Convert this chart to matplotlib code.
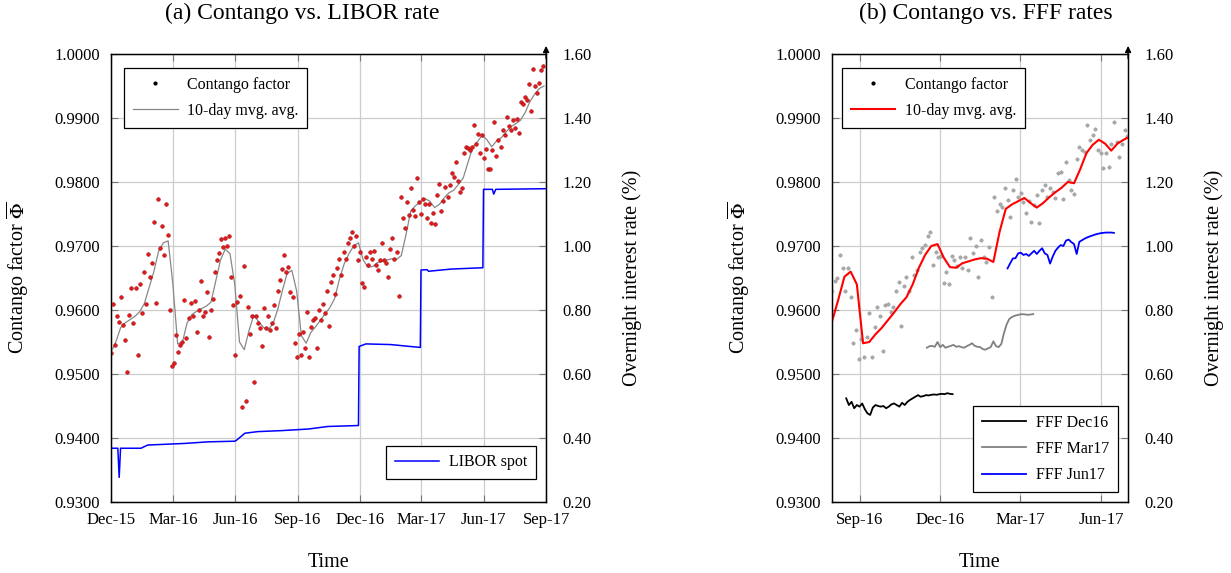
import pandas as pd
import matplotlib
matplotlib.use('Agg')
import matplotlib.pyplot as plt
from matplotlib.lines import Line2D
from matplotlib.ticker import FormatStrFormatter

plt.rcParams['font.family'] = ['Liberation Serif', 'DejaVu Serif']
plt.rcParams['mathtext.fontset'] = 'stix'

# ---------------- panel (a): contango vs LIBOR ----------------
# contango factor, one reading every 3 days from 1 Dec 2015
phi_a = [
    0.9533, 0.9609, 0.9546, 0.9590, 0.9581, 0.9620, 0.9577, 0.9553, 0.9503, 0.9592,
    0.9634, 0.9580, 0.9634, 0.9530, 0.9640, 0.9595, 0.9659, 0.9609, 0.9687, 0.9652,
    0.9673, 0.9737, 0.9611, 0.9773, 0.9697, 0.9731, 0.9686, 0.9766, 0.9717, 0.9600,
    0.9513, 0.9517, 0.9561, 0.9534, 0.9545, 0.9550, 0.9616, 0.9556, 0.9587, 0.9611,
    0.9590, 0.9614, 0.9566, 0.9600, 0.9645, 0.9590, 0.9597, 0.9628, 0.9558, 0.9600,
    0.9617, 0.9659, 0.9678, 0.9689, 0.9711, 0.9698, 0.9712, 0.9700, 0.9716, 0.9652,
    0.9608, 0.9530, 0.9612, 0.9622, 0.9449, 0.9669, 0.9458, 0.9605, 0.9562, 0.9590,
    0.9487, 0.9590, 0.9580, 0.9572, 0.9544, 0.9603, 0.9572, 0.9590, 0.9568, 0.9580,
    0.9608, 0.9572, 0.9630, 0.9647, 0.9664, 0.9686, 0.9660, 0.9667, 0.9628, 0.9620,
    0.9548, 0.9526, 0.9563, 0.9529, 0.9565, 0.9540, 0.9597, 0.9526, 0.9573, 0.9585,
    0.9588, 0.9540, 0.9600, 0.9584, 0.9610, 0.9595, 0.9630, 0.9575, 0.9644, 0.9655,
    0.9625, 0.9666, 0.9680, 0.9655, 0.9690, 0.9680, 0.9705, 0.9713, 0.9722, 0.9700,
    0.9716, 0.9678, 0.9690, 0.9642, 0.9636, 0.9683, 0.9670, 0.9690, 0.9680, 0.9692,
    0.9670, 0.9663, 0.9678, 0.9705, 0.9678, 0.9673, 0.9652, 0.9696, 0.9712, 0.9680,
    0.9690, 0.9622, 0.9777, 0.9744, 0.9728, 0.9768, 0.9748, 0.9790, 0.9757, 0.9747,
    0.9806, 0.9768, 0.9750, 0.9773, 0.9765, 0.9743, 0.9766, 0.9736, 0.9752, 0.9735,
    0.9780, 0.9797, 0.9755, 0.9770, 0.9792, 0.9776, 0.9796, 0.9814, 0.9808, 0.9832,
    0.9802, 0.9785, 0.9790, 0.9845, 0.9855, 0.9853, 0.9850, 0.9855, 0.9889, 0.9860,
    0.9875, 0.9845, 0.9873, 0.9837, 0.9851, 0.9820, 0.9821, 0.9850, 0.9894, 0.9840,
    0.9866, 0.9855, 0.9881, 0.9874, 0.9902, 0.9888, 0.9881, 0.9897, 0.9884, 0.9899,
    0.9877, 0.9925, 0.9922, 0.9933, 0.9928, 0.9953, 0.9911, 0.9976, 0.9950, 0.9939,
    0.9954, 0.9975, 0.9981,
]
# 10-day moving average, weekly from 1 Dec 2015
ma_a = [
    0.9534, 0.9550, 0.9572, 0.9580, 0.9585, 0.9590, 0.9597, 0.9610, 0.9635, 0.9660,
    0.9692, 0.9705, 0.9708, 0.9640, 0.9547, 0.9550, 0.9580, 0.9593, 0.9598, 0.9602,
    0.9606, 0.9612, 0.9645, 0.9678, 0.9695, 0.9688, 0.9640, 0.9550, 0.9538, 0.9568,
    0.9592, 0.9582, 0.9573, 0.9569, 0.9578, 0.9600, 0.9630, 0.9657, 0.9662, 0.9630,
    0.9560, 0.9548, 0.9565, 0.9574, 0.9584, 0.9594, 0.9604, 0.9618, 0.9648, 0.9672,
    0.9688, 0.9700, 0.9705, 0.9678, 0.9667, 0.9668, 0.9674, 0.9676, 0.9678, 0.9680,
    0.9679, 0.9685, 0.9718, 0.9755, 0.9763, 0.9769, 0.9774, 0.9770, 0.9760, 0.9765,
    0.9775, 0.9783, 0.9787, 0.9796, 0.9806, 0.9830, 0.9854, 0.9863, 0.9873, 0.9866,
    0.9855, 0.9864, 0.9869, 0.9878, 0.9886, 0.9891, 0.9896, 0.9908, 0.9925, 0.9937,
    0.9946, 0.9950,
]
# LIBOR spot rate (%)
libor_dates = ['2015-12-01', '2015-12-11', '2015-12-13', '2015-12-15', '2016-01-14',
               '2016-01-24', '2016-03-18', '2016-04-22', '2016-05-31', '2016-06-02',
               '2016-06-15', '2016-07-04', '2016-08-07', '2016-09-16', '2016-10-15',
               '2016-11-29', '2016-11-30', '2016-12-10', '2017-01-15', '2017-02-28',
               '2017-03-01', '2017-03-10', '2017-03-12', '2017-04-15', '2017-05-31',
               '2017-06-01', '2017-06-14', '2017-06-16', '2017-06-19', '2017-08-31']
libor = [0.368, 0.368, 0.277, 0.368, 0.368,
         0.378, 0.383, 0.388, 0.390, 0.392,
         0.415, 0.420, 0.423, 0.428, 0.436,
         0.439, 0.686, 0.694, 0.692, 0.683,
         0.925, 0.926, 0.921, 0.928, 0.932,
         1.177, 1.177, 1.162, 1.177, 1.179]
ticks_a = ['2015-12-01', '2016-03-01', '2016-06-01', '2016-09-01', '2016-12-01',
           '2017-03-01', '2017-06-01', '2017-09-01']
ticklabels_a = ['Dec-15', 'Mar-16', 'Jun-16', 'Sep-16', 'Dec-16', 'Mar-17', 'Jun-17', 'Sep-17']

# ---------------- panel (b): contango vs FFF ----------------
# contango factor, every 3 days from 1 Aug 2016
phi_b = [
    0.9629, 0.9646, 0.9650, 0.9686, 0.9665, 0.9629, 0.9666, 0.9620, 0.9548, 0.9569,
    0.9524, 0.9555, 0.9527, 0.9558, 0.9596, 0.9526, 0.9574, 0.9605, 0.9590, 0.9536,
    0.9608, 0.9610, 0.9597, 0.9605, 0.9629, 0.9644, 0.9575, 0.9637, 0.9652, 0.9630,
    0.9683, 0.9655, 0.9663, 0.9691, 0.9697, 0.9702, 0.9715, 0.9722, 0.9670, 0.9691,
    0.9683, 0.9685, 0.9642, 0.9660, 0.9640, 0.9685, 0.9678, 0.9669, 0.9683, 0.9665,
    0.9683, 0.9663, 0.9713, 0.9689, 0.9700, 0.9652, 0.9710, 0.9683, 0.9675, 0.9699,
    0.9620, 0.9776, 0.9754, 0.9766, 0.9761, 0.9790, 0.9772, 0.9746, 0.9788, 0.9805,
    0.9777, 0.9783, 0.9769, 0.9752, 0.9770, 0.9738, 0.9764, 0.9780, 0.9736, 0.9788,
    0.9796, 0.9777, 0.9790, 0.9785, 0.9775, 0.9814, 0.9816, 0.9774, 0.9831, 0.9803,
    0.9788, 0.9782, 0.9836, 0.9855, 0.9850, 0.9847, 0.9889, 0.9866, 0.9873, 0.9883,
    0.9850, 0.9845, 0.9822, 0.9845, 0.9823, 0.9860, 0.9893, 0.9863, 0.9839, 0.9860,
    0.9881, 0.9872,
]
# 10-day moving average, weekly from 1 Aug 2016
ma_b = [
    0.9582, 0.9616, 0.9652, 0.9660, 0.9640, 0.9548, 0.9550, 0.9562, 0.9572, 0.9584,
    0.9596, 0.9609, 0.9620, 0.9640, 0.9666, 0.9686, 0.9700, 0.9703, 0.9682, 0.9667,
    0.9666, 0.9673, 0.9676, 0.9679, 0.9681, 0.9680, 0.9675, 0.9722, 0.9758, 0.9765,
    0.9770, 0.9775, 0.9767, 0.9760, 0.9767, 0.9776, 0.9784, 0.9791, 0.9800, 0.9798,
    0.9820, 0.9845, 0.9858, 0.9866, 0.9860, 0.9849, 0.9860, 0.9866, 0.9871,
]
# fed funds futures implied rates (%), every 3 days
fff_dec16 = [
    0.524, 0.503, 0.513, 0.493, 0.503, 0.498, 0.508, 0.490, 0.477, 0.472,
    0.495, 0.503, 0.500, 0.498, 0.500, 0.493, 0.498, 0.505, 0.508, 0.503,
    0.498, 0.510, 0.503, 0.513, 0.519, 0.524, 0.529, 0.534, 0.529, 0.531,
    0.534, 0.533, 0.535, 0.536, 0.535, 0.537, 0.538, 0.537, 0.540, 0.538,
    0.537,
]
fff_mar17 = [
    0.682, 0.687, 0.6875, 0.685, 0.700, 0.684, 0.691, 0.682, 0.685, 0.688,
    0.691, 0.685, 0.687, 0.684, 0.682, 0.687, 0.691, 0.696, 0.688, 0.685,
    0.684, 0.678, 0.676, 0.680, 0.684, 0.702, 0.687, 0.684, 0.694, 0.728,
    0.755, 0.772, 0.778, 0.782, 0.784, 0.786, 0.787, 0.786, 0.785, 0.786,
    0.787,
]
fff_jun17 = [
    0.930, 0.946, 0.961, 0.962, 0.977, 0.979, 0.972, 0.975, 0.969, 0.977,
    0.985, 0.975, 0.985, 0.993, 0.977, 0.972, 0.945, 0.967, 0.985, 0.995,
    1.003, 1.000, 1.017, 1.020, 1.012, 1.006, 0.975, 1.013, 1.018, 1.023,
    1.027, 1.030, 1.033, 1.036, 1.038, 1.040, 1.041, 1.042, 1.042, 1.042,
    1.041,
]
ticks_b = ['2016-09-01', '2016-12-01', '2017-03-01', '2017-06-01']
ticklabels_b = ['Sep-16', 'Dec-16', 'Mar-17', 'Jun-17']

yticks_left = [0.93, 0.94, 0.95, 0.96, 0.97, 0.98, 0.99, 1.00]
yticks_right = [0.2, 0.4, 0.6, 0.8, 1.0, 1.2, 1.4, 1.6]

t_phi_a = pd.date_range('2015-12-01', periods=len(phi_a), freq='3D')
t_ma_a = pd.date_range('2015-12-01', periods=len(ma_a), freq='7D')
t_libor = pd.to_datetime(libor_dates)
t_phi_b = pd.date_range('2016-08-01', periods=len(phi_b), freq='3D')
t_ma_b = pd.date_range('2016-08-01', periods=len(ma_b), freq='7D')
t_dec16 = pd.date_range('2016-08-17', periods=len(fff_dec16), freq='3D')
t_mar17 = pd.date_range('2016-11-16', periods=len(fff_mar17), freq='3D')
t_jun17 = pd.date_range('2017-02-15', periods=len(fff_jun17), freq='3D')

FS = 12      # tick labels
LFS = 11.5   # legends
AFS = 14.5   # axis labels
legkw = dict(fontsize=LFS, fancybox=False, edgecolor='black', framealpha=1,
             handlelength=2.8, handletextpad=0.6, borderpad=0.55, labelspacing=0.65,
             borderaxespad=0)

fig = plt.figure(figsize=(12.31, 5.73), dpi=100)
axa = fig.add_axes([0.0902, 0.1239, 0.3534, 0.7819])
axb = fig.add_axes([0.6759, 0.1239, 0.2405, 0.7819])


def style(ax, ticks, labels, xlim, title, title_x):
    ax.set_xlim(pd.Timestamp(xlim[0]), pd.Timestamp(xlim[1]))
    ax.set_ylim(0.93, 1.0)
    ax.set_xticks(pd.to_datetime(ticks))
    ax.set_xticklabels(labels)
    ax.set_yticks(yticks_left)
    ax.yaxis.set_major_formatter(FormatStrFormatter('%.4f'))
    ax.grid(True, color='#cccccc', lw=0.9)
    ax.set_axisbelow(True)
    ax.tick_params(direction='in', length=5, width=0.8, color='#777777', labelsize=FS,
                   top=True)
    ax.tick_params(axis='y', pad=8)
    ax.tick_params(axis='x', pad=7)
    ax.set_xlabel('Time', fontsize=AFS, labelpad=18)
    ax.set_ylabel(r'Contango factor $\overline{\Phi}$', fontsize=AFS, labelpad=17)
    ax.set_title(title, fontsize=17, pad=25, x=title_x)
    for s in ax.spines.values():
        s.set_linewidth(1.0)


def style_right(ax2):
    ax2.set_ylim(0.2, 1.6)
    ax2.set_yticks(yticks_right)
    ax2.yaxis.set_major_formatter(FormatStrFormatter('%.2f'))
    ax2.tick_params(direction='in', length=5, width=0.8, color='#777777', labelsize=FS, pad=12)
    ax2.set_ylabel('Overnight interest rate (%)', fontsize=AFS, labelpad=22)
    ax2.annotate('', xy=(1, 1.018), xytext=(1, 0.99), xycoords='axes fraction',
                 arrowprops=dict(arrowstyle='-|>', lw=1.0, color='black',
                                 mutation_scale=9, shrinkA=0, shrinkB=0))


# panel (a)
style(axa, ticks_a, ticklabels_a, ('2015-12-01', '2017-09-01'),
      '(a) Contango vs. LIBOR rate', 0.44)
axa.plot(t_ma_a, ma_a, color='#888888', lw=0.9, zorder=3)
axa.scatter(t_phi_a, phi_a, s=7, c='#e41a1c', edgecolors='#a01010', linewidths=0.4, zorder=4)
axa2 = axa.twinx()
style_right(axa2)
axa2.plot(t_libor, libor, color='#0000ff', lw=1.1)

h1 = [Line2D([], [], ls='none', marker='o', ms=2, color='black'),
      Line2D([], [], color='#888888', lw=0.9)]
leg = axa.legend(h1, ['Contango factor', '10-day mvg. avg.'], loc='upper left',
                 bbox_to_anchor=(0.030, 0.969), **legkw)
leg.get_frame().set_linewidth(0.9)
leg2 = axa2.legend([Line2D([], [], color='#0000ff', lw=1.1)], ['LIBOR spot'],
                   loc='lower right', bbox_to_anchor=(0.977, 0.051), **legkw)
leg2.get_frame().set_linewidth(0.9)

# panel (b)
style(axb, ticks_b, ticklabels_b, ('2016-08-01', '2017-07-01'),
      '(b) Contango vs. FFF rates', 0.52)
axb.scatter(t_phi_b, phi_b, s=6, c='#aaaaaa', edgecolors='#909090', linewidths=0.3, zorder=3)
axb.plot(t_ma_b, ma_b, color='#ff0000', lw=1.5, zorder=4)
axb2 = axb.twinx()
style_right(axb2)
axb2.plot(t_dec16, fff_dec16, color='black', lw=1.3)
axb2.plot(t_mar17, fff_mar17, color='#808080', lw=1.3)
axb2.plot(t_jun17, fff_jun17, color='#0000ff', lw=1.3)

h2 = [Line2D([], [], ls='none', marker='o', ms=2, color='black'),
      Line2D([], [], color='#ff0000', lw=1.5)]
leg3 = axb.legend(h2, ['Contango factor', '10-day mvg. avg.'], loc='upper left',
                  bbox_to_anchor=(0.033, 0.969), **legkw)
leg3.get_frame().set_linewidth(0.9)
h3 = [Line2D([], [], color='black', lw=1.3), Line2D([], [], color='#808080', lw=1.3),
      Line2D([], [], color='#0000ff', lw=1.3)]
leg4 = axb2.legend(h3, ['FFF Dec16', 'FFF Mar17', 'FFF Jun17'], loc='lower right',
                   bbox_to_anchor=(0.966, 0.022), **legkw)
leg4.get_frame().set_linewidth(0.9)

fig.savefig('out.png', dpi=100)
